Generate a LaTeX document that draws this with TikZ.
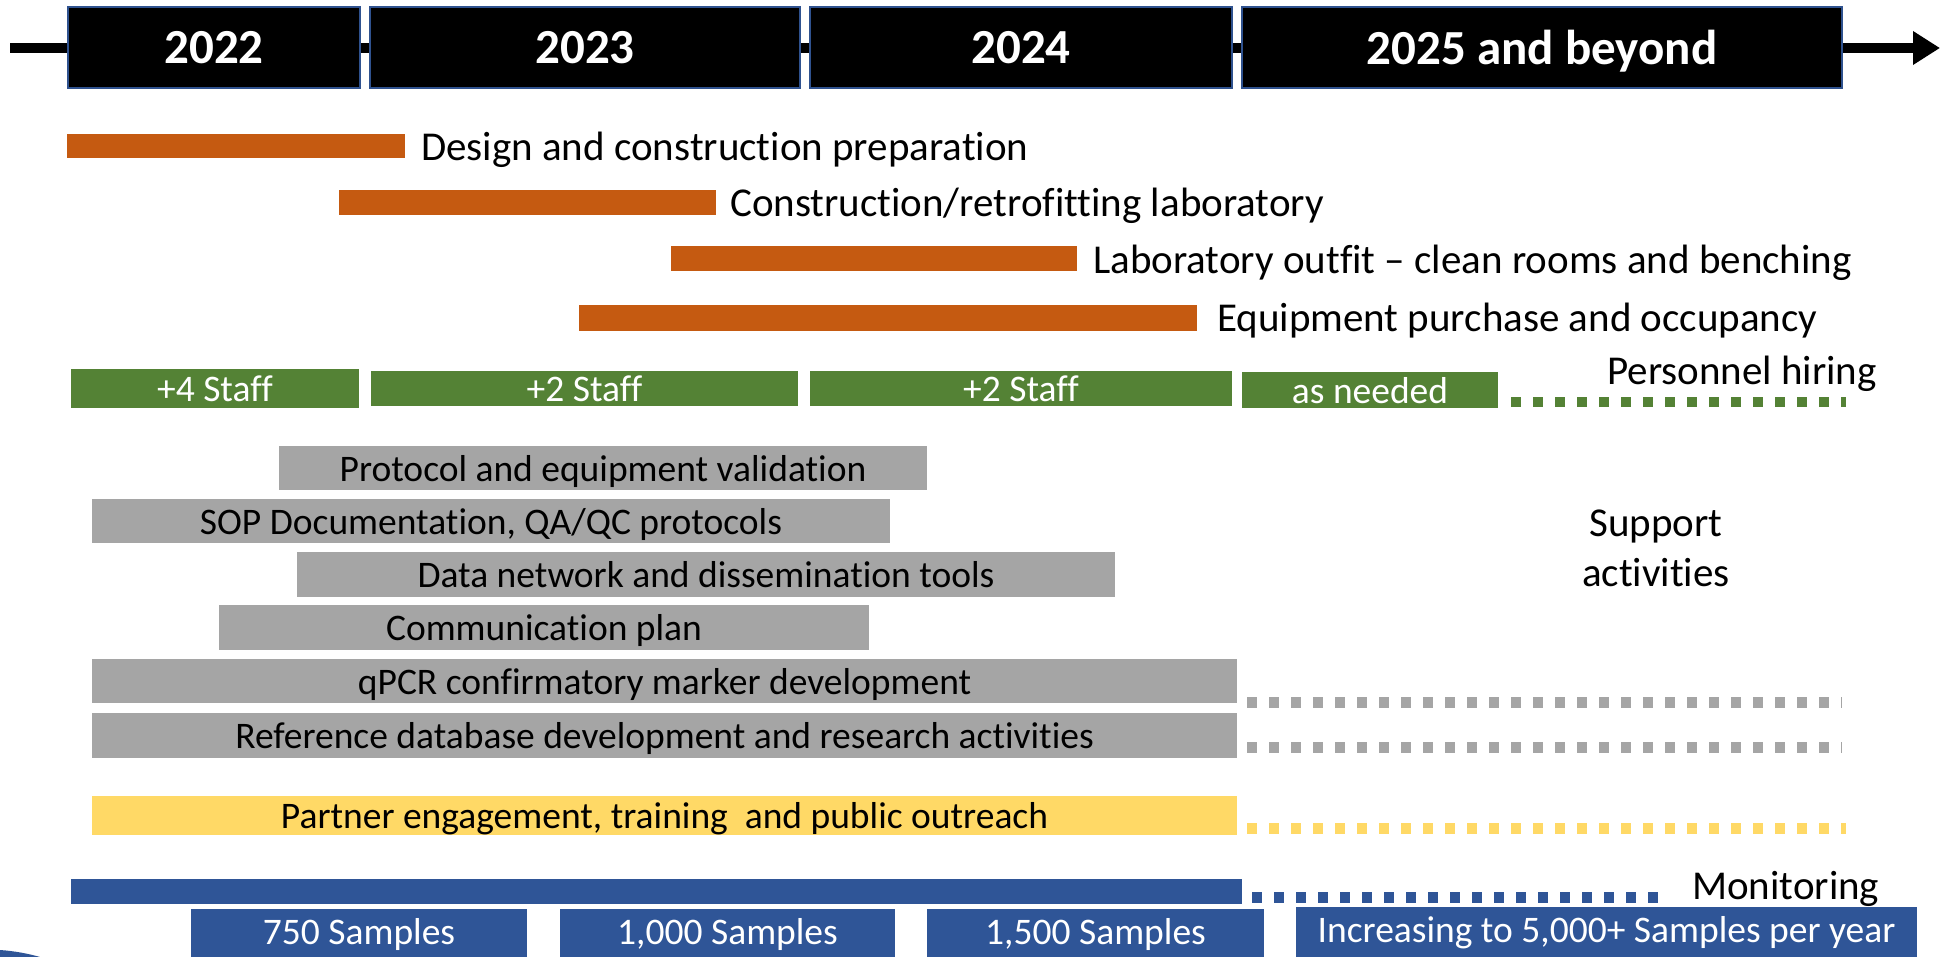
\documentclass[tikz,border=0pt]{standalone}
\usepackage{fontspec}
\setmainfont{Carlito}[Ligatures=NoCommon]
\usetikzlibrary{arrows.meta}
\definecolor{orng}{HTML}{C55A11}
\definecolor{grn}{HTML}{548235}
\definecolor{gry}{HTML}{A5A5A5}
\definecolor{ylw}{HTML}{FFD966}
\definecolor{blu}{HTML}{2F5597}
\definecolor{bord}{HTML}{2F528F}
\tikzset{
  bar/.style={rectangle, inner sep=0pt, outer sep=0pt, anchor=north west},
  yearbox/.style={bar, fill=black, draw=bord, line width=1.5pt, text=white,
    text depth=0pt, font=\fontsize{49}{56}\selectfont\bfseries},
  barlabel/.style={font=\fontsize{41}{50}\selectfont, text=black, anchor=west, inner sep=0pt, text depth=0pt},
  intext/.style={font=\fontsize{37.5}{44}\selectfont, text depth=0pt},
  samptext/.style={font=\fontsize{37.5}{44}\selectfont, text=white},
  dotline/.style={line width=#1, dash pattern=on 10pt off 12pt},
}
\begin{document}
\begin{tikzpicture}[x=1pt,y=-1pt]
\useasboundingbox (0,0) rectangle (1941,957);
\fill[white] (0,0) rectangle (1941,957);
% timeline
\coordinate (tstart) at (10,48);
\coordinate (tend) at (1940,48);
\draw[line width=10pt, -{Triangle[length=27pt,width=32pt]}] (tstart) -- (tend);
\node[yearbox, minimum width=292pt, minimum height=81pt] (y22) at (68,7) {2022};
\node[yearbox, minimum width=430pt, minimum height=81pt] (y23) at (370,7) {2023};
\node[yearbox, minimum width=422pt, minimum height=81pt] (y24) at (810,7) {2024};
\node[yearbox, minimum width=600pt, minimum height=81pt] (y25) at (1242,7) {2025 and beyond};
% orange bars
\node[bar, fill=orng, minimum width=338pt, minimum height=24pt] (o1) at (67,134) {};
\node[barlabel] (o1t) at (421,146) {Design and construction preparation};
\node[bar, fill=orng, minimum width=377pt, minimum height=25pt] (o2) at (339,190) {};
\node[barlabel] (o2t) at (730,202) {Construction/retrofitting laboratory};
\node[bar, fill=orng, minimum width=406pt, minimum height=25pt] (o3) at (671,246) {};
\node[barlabel] (o3t) at (1093,259) {Laboratory outfit -- clean rooms and benching};
\node[bar, fill=orng, minimum width=618pt, minimum height=26pt] (o4) at (579,305) {};
\node[barlabel] (o4t) at (1217,317) {Equipment purchase and occupancy};
% green bars
\node[bar, fill=grn, text=white, intext, minimum width=288pt, minimum height=39pt] (g1) at (71,369) {+4 Staff};
\node[bar, fill=grn, text=white, intext, minimum width=427pt, minimum height=35pt] (g2) at (371,371) {+2 Staff};
\node[bar, fill=grn, text=white, intext, minimum width=422pt, minimum height=35pt] (g3) at (810,371) {+2 Staff};
\node[bar, fill=grn, text=white, intext, minimum width=256pt, minimum height=36pt] (g4) at (1242,372) {as needed};
\coordinate (g4a) at (1511,402);
\coordinate (g4b) at (1846,402);
\draw[grn, dotline=10pt] (g4a) -- (g4b);
\node[barlabel] (ph) at (1607,370) {Personnel hiring};
% gray bars
\node[bar, fill=gry, intext, minimum width=648pt, minimum height=44pt] (s1) at (279,446) {Protocol and equipment validation};
\node[bar, fill=gry, intext, minimum width=798pt, minimum height=44pt] (s2) at (92,499) {SOP Documentation, QA/QC protocols};
\node[bar, fill=gry, intext, minimum width=818pt, minimum height=45pt] (s3) at (297,552) {Data network and dissemination tools};
\node[bar, fill=gry, intext, minimum width=650pt, minimum height=45pt] (s4) at (219,605) {Communication plan};
\node[bar, fill=gry, intext, minimum width=1145pt, minimum height=44pt] (s5) at (92,659) {qPCR confirmatory marker development};
\node[bar, fill=gry, intext, minimum width=1145pt, minimum height=45pt] (s6) at (92,713) {Reference database development and research activities};
\coordinate (s5a) at (1247,702);
\coordinate (s5b) at (1842,702);
\coordinate (s6a) at (1247,747);
\coordinate (s6b) at (1842,747);
\draw[gry, dotline=11pt] (s5a) -- (s5b);
\draw[gry, dotline=11pt] (s6a) -- (s6b);
\node[font=\fontsize{41}{50}\selectfont, align=center, inner sep=0pt] (sup) at (1656,548) {Support\\activities};
% yellow
\node[bar, fill=ylw, intext, minimum width=1145pt, minimum height=39pt] (p1) at (92,796) {Partner engagement, training\ \ and public outreach};
\coordinate (p1a) at (1247,828);
\coordinate (p1b) at (1846,828);
\draw[ylw, dotline=11pt] (p1a) -- (p1b);
% monitoring
\node[bar, fill=blu, minimum width=1171pt, minimum height=25pt] (m1) at (71,879) {};
\coordinate (m1a) at (1252,897);
\coordinate (m1b) at (1660,897);
\draw[blu, dotline=11pt] (m1a) -- (m1b);
\node[barlabel] (mon) at (1692,885) {Monitoring};
\node[bar, fill=blu, samptext, minimum width=336pt, minimum height=50pt] (b1) at (191,909) {750 Samples};
\node[bar, fill=blu, samptext, minimum width=335pt, minimum height=50pt] (b2) at (560,909) {1,000 Samples};
\node[bar, fill=blu, samptext, minimum width=337pt, minimum height=50pt] (b3) at (927,909) {1,500 Samples};
\node[bar, fill=blu, samptext, minimum width=621pt, minimum height=52pt] (b4) at (1296,907) {Increasing to 5,000+ Samples per year};
% corner swoosh
\fill[blu] (0,950) .. controls (15,951) and (30,954) .. (40,957) -- (0,957) -- cycle;
\end{tikzpicture}
\end{document}
